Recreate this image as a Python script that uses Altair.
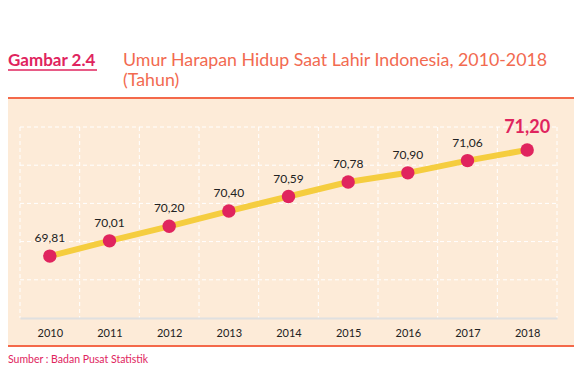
import altair as alt
import pandas as pd

years = [2010, 2011, 2012, 2013, 2014, 2015, 2016, 2017, 2018]
values = [69.81, 70.01, 70.20, 70.40, 70.59, 70.78, 70.90, 71.06, 71.20]
labels = [f"{v:.2f}".replace(".", ",") for v in values]
y_ticks = [69.5, 70.0, 70.5, 71.0, 71.5]

df = pd.DataFrame({"year": years, "value": values, "label": labels})
df["last"] = df["year"] == years[-1]

W, H = 537, 191
CRIMSON = "#e0245e"
ORANGE = "#f4694a"
PEACH = "#fdebd8"
YELLOW = "#f5cd3f"

xscale = alt.Scale(domain=[years[0] - 0.5, years[-1] + 0.5], nice=False, zero=False)
yscale = alt.Scale(domain=[69, 71.5], nice=False, zero=False)

xaxis = alt.Axis(values=years, format="d", labelFont="Lato", labelFontSize=11,
                 labelColor="#222", labelPadding=9, ticks=False,
                 domain=True, domainColor="#e0e0e0", domainWidth=2,
                 grid=False, labelFlush=False, zindex=1)
xenc = alt.X("year:Q", title=None, scale=xscale, axis=xaxis)
yenc = alt.Y("value:Q", title=None, scale=yscale, axis=None)

dummy = pd.DataFrame({"a": [0]})

bg = alt.Chart(dummy).mark_rect(color=PEACH).encode(
    x=alt.value(-12), x2=alt.value(555), y=alt.value(-28), y2=alt.value(218))
top_line = alt.Chart(dummy).mark_rule(color=ORANGE, strokeWidth=2).encode(
    x=alt.value(-12), x2=alt.value(555), y=alt.value(-29))
bot_line = alt.Chart(dummy).mark_rule(color=ORANGE, strokeWidth=2).encode(
    x=alt.value(-12), x2=alt.value(555), y=alt.value(219))

vb = pd.DataFrame({"b": [y - 0.5 for y in years] + [years[-1] + 0.5]})
vgrid = alt.Chart(vb).mark_rule(color="white", strokeDash=[4, 3], strokeWidth=1).encode(
    x=alt.X("b:Q", scale=xscale, title=None, axis=xaxis), y=alt.value(0), y2=alt.value(H))
hb = pd.DataFrame({"t": y_ticks})
hgrid = alt.Chart(hb).mark_rule(color="white", strokeDash=[4, 3], strokeWidth=1).encode(
    y=alt.Y("t:Q", scale=yscale, title=None, axis=None), x=alt.value(0), x2=alt.value(W))

TFONT = "Lato"
gambar = alt.Chart(dummy).mark_text(
    text="Gambar 2.4", font=TFONT, fontSize=17, fontWeight="bold", color=CRIMSON,
    align="left", baseline="alphabetic").encode(x=alt.value(-12), y=alt.value(-61))
underline = alt.Chart(dummy).mark_rule(color=CRIMSON, strokeWidth=1.5).encode(
    x=alt.value(-12), x2=alt.value(77), y=alt.value(-57))
title1 = alt.Chart(dummy).mark_text(
    text="Umur Harapan Hidup Saat Lahir Indonesia, 2010-2018", font=TFONT,
    fontSize=17.8, color="#f26a50", align="left", baseline="alphabetic").encode(
    x=alt.value(103), y=alt.value(-61))
title2 = alt.Chart(dummy).mark_text(
    text="(Tahun)", font=TFONT, fontSize=17.8, color="#f26a50", align="left",
    baseline="alphabetic").encode(x=alt.value(103), y=alt.value(-41))
source = alt.Chart(dummy).mark_text(
    text="Sumber : Badan Pusat Statistik", font=TFONT, fontSize=10.5,
    color=CRIMSON, align="left", baseline="alphabetic").encode(
    x=alt.value(-12), y=alt.value(236))

base = alt.Chart(df).encode(x=xenc, y=yenc)
line = base.mark_line(color=YELLOW, strokeWidth=6)
pts = base.mark_circle(color=CRIMSON, size=180, opacity=1)
lab = base.transform_filter("!datum.last").mark_text(
    font="Lato", fontSize=12, color="#222", dy=-18).encode(text="label:N")
lab_last = base.transform_filter("datum.last").mark_text(
    font="Lato", fontSize=18, fontWeight="bold", color=CRIMSON, dy=-22).encode(text="label:N")

chart = alt.layer(bg, top_line, bot_line, vgrid, hgrid, line, pts, lab, lab_last,
                  gambar, underline, title1, title2, source).properties(
    width=W, height=H,
    autosize=alt.AutoSizeParams(type="none"),
    padding={"left": 12, "top": 119, "right": 17, "bottom": 50},
).configure_view(stroke=None).configure(background="white")

chart.save("out.html", embed_options={"renderer": "svg", "actions": False})
